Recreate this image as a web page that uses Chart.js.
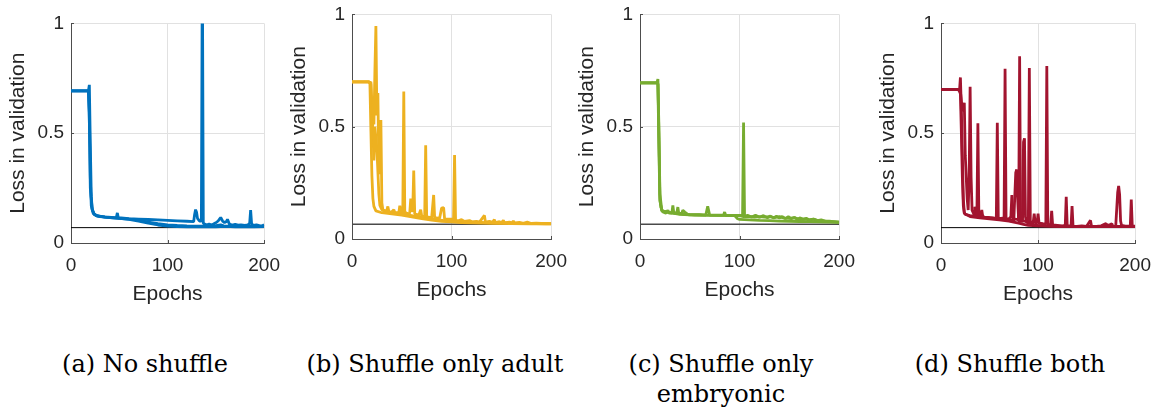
<!DOCTYPE html>
<html>
<head>
<meta charset="utf-8">
<script src="https://cdn.jsdelivr.net/npm/chart.js@4.4.1/dist/chart.umd.min.js"></script>
<style>
  html, body { margin: 0; padding: 0; background: #fff; }
  #fig { position: relative; width: 1167px; height: 409px; overflow: hidden; background: #fff; }
  .pane { position: absolute; }
  .pane canvas { display: block; }
  .cap {
    position: absolute; width: 340px; text-align: center;
    font-family: "DejaVu Serif", serif; font-size: 24px; line-height: 30px; color: #000;
    white-space: nowrap;
  }
</style>
</head>
<body>
<div id="fig">
  <div class="pane" id="pane0"><canvas id="c0"></canvas></div>
  <div class="pane" id="pane1"><canvas id="c1"></canvas></div>
  <div class="pane" id="pane2"><canvas id="c2"></canvas></div>
  <div class="pane" id="pane3"><canvas id="c3"></canvas></div>
  <div class="cap" style="left:-25px; top:349px;">(a) No shuffle</div>
  <div class="cap" style="left:265px; top:349px;">(b) Shuffle only adult</div>
  <div class="cap" style="left:551px; top:349px;">(c) Shuffle only<br>embryonic</div>
  <div class="cap" style="left:840px; top:349px;">(d) Shuffle both</div>
</div>
<script>
// ---- axis ticks and titles ----
const epochTicks = [0, 100, 200];
const lossTicks = [0, 0.5, 1];
const lossTickLabels = ['0', '0.5', '1'];
const xTitle = 'Epochs';
const yTitle = 'Loss in validation';

// ---- reference loss level (horizontal line) per panel ----
const refLoss = [0.070, 0.066, 0.066, 0.070];

// ---- validation loss per run, [epoch, loss] ----
// (a) No shuffle
const noShuffleRun1 = [[0,0.693],[17,0.693],[18,0.692],[19,0.72],[20,0.45],[21,0.21],[22,0.155],[24,0.132],[27,0.123],[35,0.119],[45,0.116],[47,0.117],[48,0.137],[49,0.115],[60,0.111],[70,0.109],[80,0.107],[90,0.105],[100,0.103],[110,0.101],[120,0.099],[127,0.097],[128,0.13],[129,0.152],[130,0.14],[131,0.112],[133,0.1],[135,0.1],[136,1.3],[137,0.09],[140,0.082],[143,0.086],[146,0.082],[149,0.09],[151,0.095],[153,0.104],[155,0.116],[157,0.1],[159,0.093],[161,0.098],[162,0.108],[164,0.086],[167,0.082],[170,0.085],[173,0.081],[176,0.083],[180,0.08],[183,0.082],[185,0.09],[186,0.15],[187,0.088],[189,0.08],[192,0.083],[195,0.079],[198,0.078],[200,0.084]];
const noShuffleRun2 = [[0,0.693],[17,0.693],[18,0.69],[19,0.6],[20,0.3],[21,0.17],[23,0.135],[26,0.125],[35,0.118],[50,0.112],[60,0.109],[70,0.104],[80,0.095],[90,0.088],[100,0.083],[110,0.08],[120,0.078],[130,0.077],[140,0.077],[150,0.079],[155,0.083],[158,0.078],[165,0.077],[172,0.08],[178,0.077],[185,0.078],[192,0.076],[200,0.077]];
const noShuffleRun3 = [[0,0.693],[17,0.693],[18,0.69],[19,0.55],[20,0.25],[22,0.15],[24,0.13],[30,0.12],[40,0.116],[50,0.112],[60,0.108],[70,0.1],[80,0.09],[90,0.082],[100,0.077],[110,0.075],[120,0.074],[130,0.074],[140,0.075],[150,0.074],[160,0.076],[170,0.074],[180,0.075],[190,0.074],[200,0.075]];

// (b) Shuffle only adult
const adultRun1 = [[0,0.700],[17,0.700],[18,0.69],[19,0.48],[20,0.28],[21,0.18],[22,0.145],[24,0.125],[30,0.117],[40,0.112],[50,0.106],[60,0.099],[70,0.091],[80,0.084],[90,0.079],[100,0.076],[110,0.073],[120,0.072],[140,0.07],[160,0.069],[180,0.068],[200,0.067]];
const adultRun2 = [[0,0.700],[17,0.700],[18,0.695],[19,0.70],[20,0.52],[21,0.60],[22,0.51],[23,0.75],[24,0.948],[25,0.55],[26,0.65],[27,0.30],[28,0.29],[29,0.53],[30,0.16],[31,0.13],[33,0.126],[35,0.128],[36,0.145],[37,0.122],[40,0.12],[42,0.13],[43,0.118],[47,0.116],[48,0.148],[49,0.12],[51,0.115],[52,0.657],[53,0.12],[56,0.112],[58,0.116],[59,0.18],[60,0.122],[61,0.13],[62,0.305],[63,0.112],[67,0.106],[69,0.13],[70,0.102],[73,0.1],[74,0.417],[75,0.098],[80,0.095],[82,0.196],[83,0.095],[88,0.092],[90,0.138],[92,0.14],[93,0.09],[100,0.088],[102,0.09],[103,0.374],[104,0.085],[106,0.08],[110,0.086],[113,0.078],[118,0.082],[121,0.076],[125,0.079],[128,0.075],[133,0.105],[134,0.075],[138,0.079],[141,0.074],[143,0.086],[144,0.073],[148,0.077],[150,0.072],[152,0.083],[153,0.072],[158,0.075],[161,0.072],[162,0.081],[163,0.071],[168,0.074],[172,0.07],[176,0.075],[180,0.069],[185,0.071],[190,0.069],[195,0.07],[200,0.068]];
const adultRun3 = [[0,0.700],[17,0.700],[19,0.69],[20,0.60],[22,0.35],[23,0.50],[25,0.40],[26,0.30],[27,0.20],[28,0.15],[30,0.13],[35,0.12],[45,0.114],[55,0.108],[65,0.1],[75,0.093],[85,0.086],[95,0.081],[105,0.078],[115,0.076],[125,0.075],[135,0.073],[145,0.072],[155,0.072],[165,0.071],[175,0.07],[185,0.069],[195,0.068],[200,0.068]];

// (c) Shuffle only embryonic
const embryoRun1 = [[0,0.695],[17,0.695],[18,0.712],[19,0.45],[20,0.18],[21,0.14],[23,0.12],[26,0.115],[28,0.128],[29,0.115],[32,0.115],[33,0.15],[34,0.115],[37,0.117],[38,0.142],[39,0.113],[42,0.115],[43,0.128],[45,0.12],[48,0.11],[55,0.108],[60,0.108],[66,0.106],[68,0.145],[70,0.106],[80,0.106],[84,0.107],[85,0.12],[86,0.106],[95,0.105],[100,0.105],[103,0.104],[104,0.519],[105,0.1],[110,0.1],[115,0.098],[120,0.1],[125,0.097],[130,0.1],[135,0.095],[140,0.1],[145,0.093],[150,0.092],[155,0.095],[160,0.088],[165,0.09],[170,0.085],[175,0.088],[180,0.08],[185,0.08],[190,0.077],[195,0.076],[200,0.075]];
const embryoRun2 = [[0,0.695],[17,0.695],[18,0.69],[19,0.5],[20,0.2],[22,0.125],[30,0.117],[40,0.11],[50,0.107],[60,0.106],[80,0.105],[95,0.104],[98,0.09],[100,0.087],[110,0.085],[120,0.083],[130,0.082],[140,0.08],[150,0.079],[160,0.078],[170,0.077],[180,0.076],[190,0.075],[200,0.074]];
const embryoRun3 = [[0,0.695],[17,0.695],[18,0.69],[19,0.4],[20,0.17],[22,0.125],[30,0.118],[40,0.112],[50,0.108],[70,0.106],[90,0.105],[100,0.104],[104,0.1],[108,0.105],[112,0.098],[116,0.106],[120,0.097],[124,0.104],[128,0.095],[131,0.102],[134,0.094],[137,0.101],[140,0.093],[143,0.1],[146,0.091],[149,0.099],[152,0.09],[155,0.096],[158,0.088],[161,0.094],[164,0.087],[167,0.092],[170,0.085],[174,0.089],[178,0.082],[182,0.085],[186,0.08],[190,0.079],[195,0.077],[200,0.075]];

// (d) Shuffle both
const bothRun1 = [[0,0.700],[18,0.700],[19,0.69],[20,0.754],[21,0.6],[22,0.4],[23,0.2],[24,0.14],[25,0.13],[30,0.125],[35,0.122],[37,0.125],[38,0.545],[39,0.12],[42,0.13],[43,0.118],[50,0.115],[55,0.113],[57,0.115],[58,0.548],[59,0.113],[62,0.112],[65,0.115],[66,0.794],[67,0.11],[70,0.11],[72,0.12],[73,0.218],[74,0.11],[78,0.108],[80,0.105],[81,0.85],[82,0.1],[85,0.1],[90,0.098],[91,0.797],[92,0.096],[95,0.094],[96,0.134],[97,0.093],[99,0.092],[100,0.134],[101,0.09],[105,0.088],[108,0.087],[109,0.806],[110,0.085],[113,0.084],[114,0.146],[115,0.082],[120,0.08],[125,0.078],[128,0.08],[129,0.21],[130,0.079],[134,0.078],[135,0.168],[136,0.077],[140,0.076],[145,0.078],[150,0.076],[154,0.103],[155,0.077],[160,0.076],[165,0.078],[170,0.089],[171,0.076],[176,0.088],[177,0.076],[180,0.077],[182,0.23],[183,0.26],[184,0.22],[185,0.1],[186,0.08],[190,0.077],[195,0.077],[196,0.198],[197,0.078],[200,0.077]];
const bothRun2 = [[0,0.700],[18,0.700],[20,0.69],[22,0.6],[24,0.638],[25,0.4],[27,0.2],[28,0.15],[29,0.3],[30,0.712],[31,0.3],[32,0.15],[34,0.13],[35,0.165],[36,0.125],[40,0.12],[42,0.15],[43,0.12],[45,0.118],[50,0.116],[55,0.112],[60,0.11],[65,0.108],[70,0.105],[75,0.102],[77,0.32],[78,0.335],[79,0.2],[80,0.1],[84,0.1],[85,0.46],[86,0.477],[87,0.12],[88,0.095],[90,0.09],[95,0.085],[100,0.08],[110,0.078],[120,0.076],[130,0.076],[140,0.075],[150,0.076],[160,0.075],[170,0.076],[180,0.075],[190,0.076],[200,0.075]];
const bothRun3 = [[0,0.700],[18,0.700],[20,0.68],[21,0.5],[22,0.3],[23,0.17],[24,0.135],[30,0.12],[40,0.115],[50,0.11],[60,0.105],[70,0.1],[80,0.09],[85,0.085],[90,0.08],[100,0.078],[110,0.077],[120,0.076],[140,0.076],[160,0.076],[180,0.076],[200,0.076]];

const panelRuns = [
  [noShuffleRun1, noShuffleRun2, noShuffleRun3],
  [adultRun1, adultRun2, adultRun3],
  [embryoRun1, embryoRun2, embryoRun3],
  [bothRun1, bothRun2, bothRun3]
];
const runColors = ['#0072BD', '#EDB120', '#77AC30', '#A2142F'];
const refColors = ['#000000', '#4a4a4a', '#4a4a4a', '#000000'];

// ---- plot boxes (page pixels) ----
const boxes = [
  { L: 71,  T: 19, R: 267,  B: 243 },
  { L: 352, T: 10, R: 554,  B: 239 },
  { L: 640, T: 10, R: 842,  B: 239 },
  { L: 941, T: 19, R: 1138, B: 243 }
];
const YW = 70, PT = 14, PR = 24, XH = 70;

const TEXT = '#262626';
const GRID = '#e1e1e1';
const AXIS = '#4d4d4d';
const SANS = '"Liberation Sans", Arial, sans-serif';

// small inward tick marks on the left and bottom axes
const inwardTicks = {
  id: 'inwardTicks',
  beforeDatasetsDraw(chart) {
    const { ctx, chartArea: a, scales: { x, y } } = chart;
    ctx.save();
    ctx.strokeStyle = AXIS;
    ctx.lineWidth = 1;
    ctx.beginPath();
    x.ticks.forEach(t => {
      const px = Math.round(x.getPixelForValue(t.value)) + 0.5;
      ctx.moveTo(px, a.bottom); ctx.lineTo(px, a.bottom - 3);
    });
    y.ticks.forEach(t => {
      const py = Math.round(y.getPixelForValue(t.value)) + 0.5;
      ctx.moveTo(a.left, py); ctx.lineTo(a.left + 3, py);
    });
    ctx.stroke();
    ctx.restore();
  }
};

boxes.forEach((b, i) => {
  const w = (b.R - b.L) + YW + PR;
  const h = (b.B - b.T) + PT + XH;
  const pane = document.getElementById('pane' + i);
  pane.style.left = (b.L - YW) + 'px';
  pane.style.top = (b.T - PT) + 'px';
  const cv = document.getElementById('c' + i);
  cv.width = w; cv.height = h;
  cv.style.width = w + 'px'; cv.style.height = h + 'px';

  const datasets = panelRuns[i].map(run => ({
    data: run.map(([e, l]) => ({ x: e, y: l })),
    borderColor: runColors[i],
    borderWidth: 2.8,
    borderJoinStyle: 'bevel',
    pointRadius: 0,
    tension: 0,
    fill: false,
    clip: 0
  }));
  datasets.push({
    data: [epochTicks[0], epochTicks[epochTicks.length - 1]].map(e => ({ x: e, y: refLoss[i] })),
    borderColor: refColors[i],
    borderWidth: i === 1 || i === 2 ? 1.4 : 1,
    pointRadius: 0,
    fill: false,
    clip: 0
  });

  new Chart(cv, {
    type: 'line',
    data: { datasets },
    plugins: [inwardTicks],
    options: {
      responsive: false,
      animation: false,
      events: [],
      layout: { padding: { top: PT, right: PR, left: 0, bottom: 0 } },
      plugins: { legend: { display: false }, tooltip: { enabled: false } },
      scales: {
        x: {
          type: 'linear', min: 0, max: 200,
          afterBuildTicks: s => { s.ticks = epochTicks.map(v => ({ value: v })); },
          afterFit: s => { s.height = XH; },
          ticks: { autoSkip: false, maxRotation: 0, padding: 11, color: TEXT,
                   font: { family: SANS, size: 19 }, callback: v => String(v) },
          grid: { color: GRID, lineWidth: 1, drawTicks: false },
          border: { color: AXIS, width: 1 },
          title: { display: true, text: xTitle, color: TEXT,
                   font: { family: SANS, size: 21 }, padding: { top: 0, bottom: 6 } }
        },
        y: {
          type: 'linear', min: 0, max: 1,
          afterBuildTicks: s => { s.ticks = lossTicks.map(v => ({ value: v })); },
          afterFit: s => { s.width = YW; },
          ticks: { autoSkip: false, padding: 7, color: TEXT,
                   font: { family: SANS, size: 19 },
                   callback: v => lossTickLabels[lossTicks.indexOf(v)] },
          grid: { color: GRID, lineWidth: 1, drawTicks: false },
          border: { color: AXIS, width: 1 },
          title: { display: true, text: yTitle, color: TEXT,
                   font: { family: SANS, size: 21 }, padding: { top: 5, bottom: 0 } }
        }
      }
    }
  });
});
</script>
</body>
</html>
